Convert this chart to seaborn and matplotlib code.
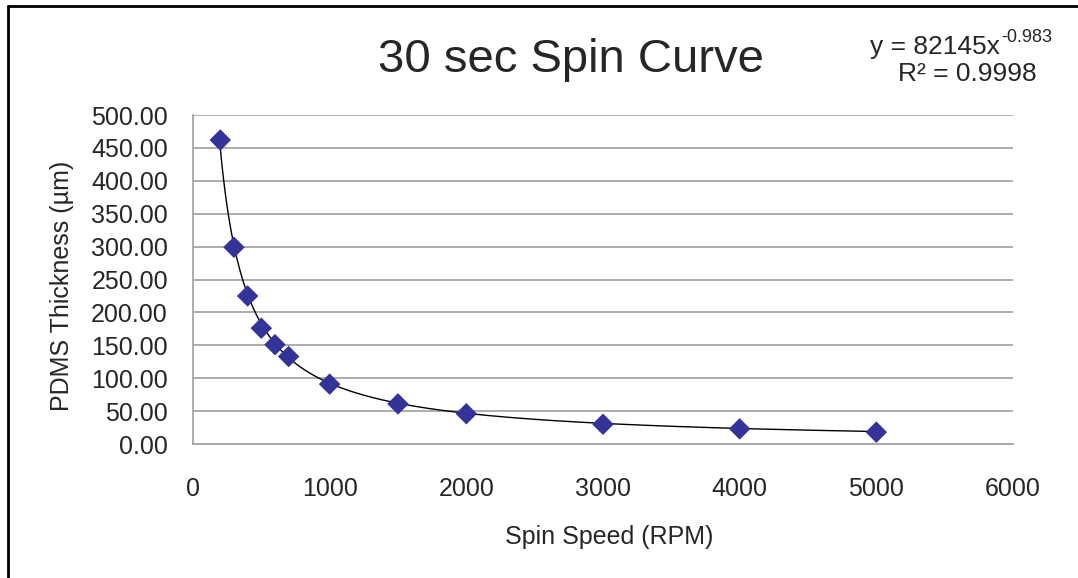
import matplotlib.pyplot as plt
import matplotlib.lines as mlines
import numpy as np
import seaborn as sns

# spin speed (RPM) vs measured PDMS thickness (um)
spin_rpm = [200, 300, 400, 500, 600, 700, 1000, 1500, 2000, 3000, 4000, 5000]
thickness_um = [462, 299, 225, 176, 151, 133, 91, 61, 46, 30, 23, 18]

# power trendline as printed on the chart
fit_coef = 82145
fit_exp = -0.983
fit_r2 = 0.9998

x_ticks = [0, 1000, 2000, 3000, 4000, 5000, 6000]
y_ticks = [0, 50, 100, 150, 200, 250, 300, 350, 400, 450, 500]

sns.set_style("white")
plt.rcParams["font.family"] = ["Liberation Sans", "DejaVu Sans"]

fig = plt.figure(figsize=(10.78, 5.78), dpi=100)
ax = fig.add_axes([0.179, 0.2318, 0.7607, 0.5692])

grid_col = "#a6a6a6"
for yv in y_ticks:
    ax.axhline(yv, color=grid_col, lw=1.3, zorder=0)

fit_x = np.linspace(min(spin_rpm), max(spin_rpm), 400)
fit_y = fit_coef * fit_x ** fit_exp
sns.lineplot(x=fit_x, y=fit_y, color="black", lw=1.0, ax=ax, zorder=2)

sns.scatterplot(
    x=spin_rpm,
    y=thickness_um,
    marker="D",
    s=120,
    color="#333399",
    edgecolor="none",
    ax=ax,
    zorder=3,
)

ax.set_xlim(0, 6000)
ax.set_ylim(0, 500)
ax.set_xticks(x_ticks)
ax.set_yticks(y_ticks)
ax.set_yticklabels([f"{v:.2f}" for v in y_ticks])
ax.tick_params(axis="both", length=0, labelsize=18)
ax.tick_params(axis="y", pad=18)
ax.tick_params(axis="x", pad=24)

for side in ["top", "right"]:
    ax.spines[side].set_visible(False)
for side in ["left", "bottom"]:
    ax.spines[side].set_color(grid_col)
    ax.spines[side].set_linewidth(1.3)

ax.set_xlabel("Spin Speed (RPM)", fontsize=18)
ax.xaxis.label.set_va("center")
ax.xaxis.set_label_coords(0.507, -0.283)
ax.set_ylabel("PDMS Thickness (µm)", fontsize=18)
ax.yaxis.label.set_va("center")
ax.yaxis.set_label_coords(-0.16, 0.48)

fig.text(571 / 1078, 1 - 60 / 578, "30 sec Spin Curve", fontsize=34,
         ha="center", va="center")
# trendline label: base text plus a small superscript exponent
fig.text(1000 / 1078, 1 - 47 / 578, f"y = {fit_coef}x", fontsize=19,
         ha="right", va="center")
fig.text(1001 / 1078, 1 - 38 / 578, f"{fit_exp}", fontsize=13,
         ha="left", va="center")
fig.text(967 / 1078, 1 - 74 / 578, f"R² = {fit_r2}", fontsize=19,
         ha="center", va="center")

# outer frame (left and top edges visible in the source)
fig.add_artist(mlines.Line2D([8 / 1078, 1], [1 - 6 / 578, 1 - 6 / 578],
                             transform=fig.transFigure, color="black", lw=2))
fig.add_artist(mlines.Line2D([8 / 1078, 8 / 1078], [0, 1 - 6 / 578],
                             transform=fig.transFigure, color="black", lw=2))

fig.savefig("out.png", dpi=100)
